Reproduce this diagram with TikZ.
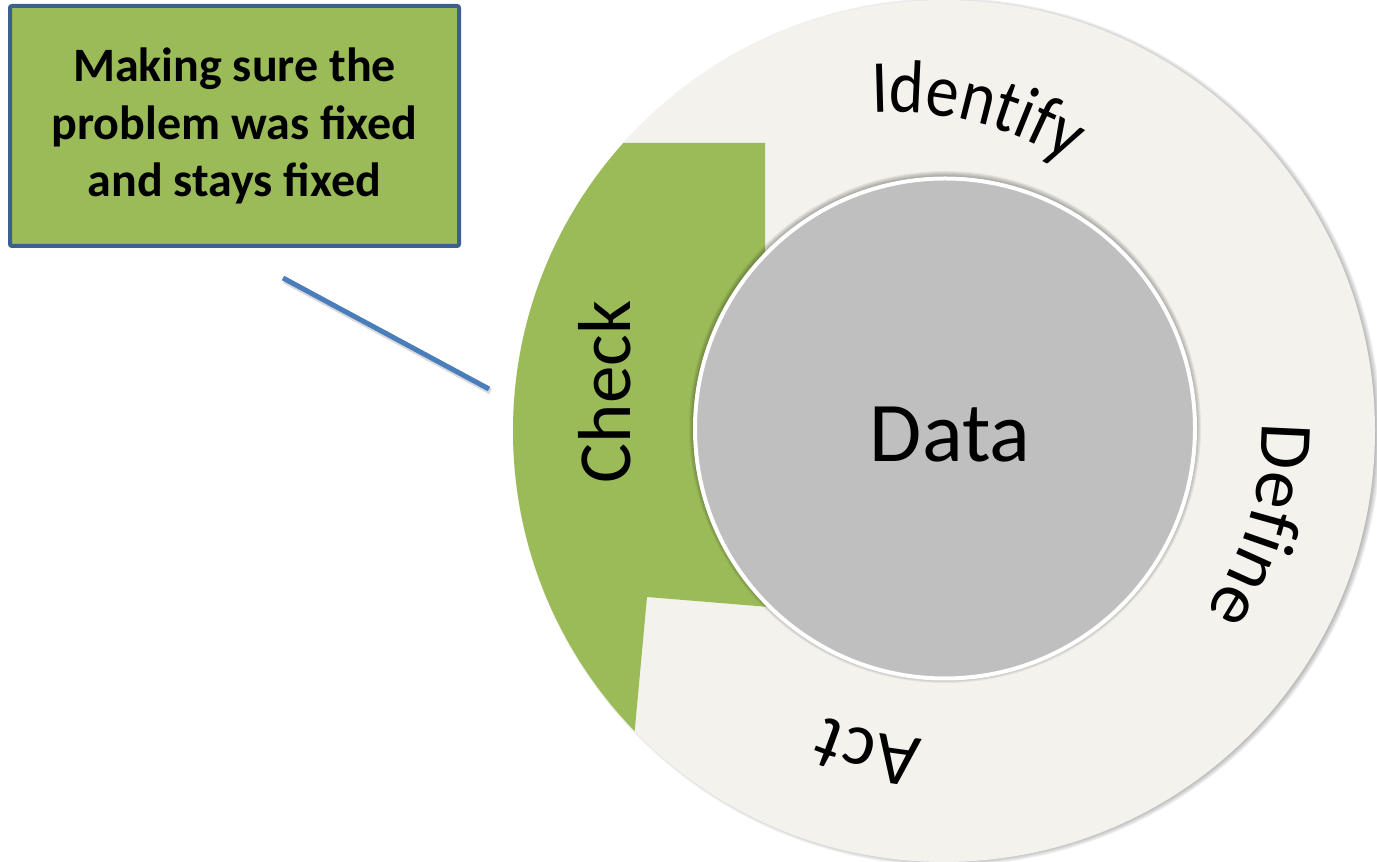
\documentclass[tikz,border=0pt]{standalone}
\usepackage{fontspec}
\setmainfont{Carlito}
\newfontfamily\narrowfam[FakeStretch=0.88]{Carlito}
\usetikzlibrary{decorations.text,calc}

\definecolor{ringfill}{RGB}{243,242,236}
\definecolor{checkgreen}{RGB}{155,187,89}
\definecolor{hubgray}{RGB}{191,191,191}
\definecolor{noteborder}{RGB}{60,96,142}
\definecolor{leaderblue}{RGB}{74,126,187}

\newcommand\labelsize{\fontsize{75}{80}\selectfont}
\newcommand\identsize{\narrowfam\fontsize{75}{80}\selectfont}

\begin{document}
\begin{tikzpicture}[x=1pt,y=1pt,
  notebox/.style={draw=noteborder, line width=4pt, fill=checkgreen,
    rounded corners=2pt, minimum width=449pt, minimum height=240pt,
    align=center, inner sep=0pt,
    font=\bfseries\fontsize{48}{57.5}\selectfont},
  leader/.style={draw=leaderblue, line width=5pt},
  hubdisc/.style={circle, fill=hubgray, draw=white, line width=4pt,
    minimum size=500pt, inner sep=0pt},
  steplabel/.style={font=\labelsize, anchor=base}
]
\useasboundingbox (0,0) rectangle (1377,862);

\coordinate (O) at (944,431);

% soft shadow of the outer ring
\foreach \k in {0,...,7}{
  \pgfmathsetmacro\rr{427+\k}
  \fill[black, opacity=0.05] (947,430) circle[radius=\rr pt];
}

% outer ring
\fill[ringfill] (O) circle[radius=431pt];

% "Check" segment
\begin{scope}
  \clip (O) circle[radius=431pt];
  \fill[checkgreen] (500,719) -- (765,719) -- (765,562) -- (830,250)
    -- (647,265) -- (632,102) -- (500,102) -- cycle;
\end{scope}

% soft shadow of the hub
\foreach \k in {0,...,6}{
  \pgfmathsetmacro\rr{250+\k}
  \fill[black, opacity=0.06] (945,435) circle[radius=\rr pt];
}

% hub
\node[hubdisc] (hub) at (945,433.5) {};
\node[font=\fontsize{85}{90}\selectfont, anchor=base] (datalabel) at (950,400) {Data};

% step labels
\node[steplabel, rotate=90] (checklabel) at (630,470) {Check};

\path[decorate, decoration={text along path, text={|\identsize|Identify}}]
  (890,410) ++(93:340pt) arc[start angle=93, end angle=20, radius=340pt];

\path[decorate, decoration={text along path, text={|\labelsize|Define}}]
  (O) ++(1.5:318pt) arc[start angle=1.5, end angle=-70, radius=318pt];

\path[decorate, decoration={text along path, text={|\labelsize|Act}}]
  (O) ++(-94:309pt) arc[start angle=-94, end angle=-160, radius=309pt];

% callout
\node[notebox] (note) at (234.5,736) {Making sure the\\problem was fixed\\and stays fixed};

\coordinate (leadA) at (283,584);
\coordinate (leadB) at (489,473);
\draw[black, opacity=0.15, line width=6pt] ($(leadA)+(1.5,-2.5)$) -- ($(leadB)+(1.5,-2.5)$);
\draw[leader] (leadA) -- (leadB);

\end{tikzpicture}
\end{document}
